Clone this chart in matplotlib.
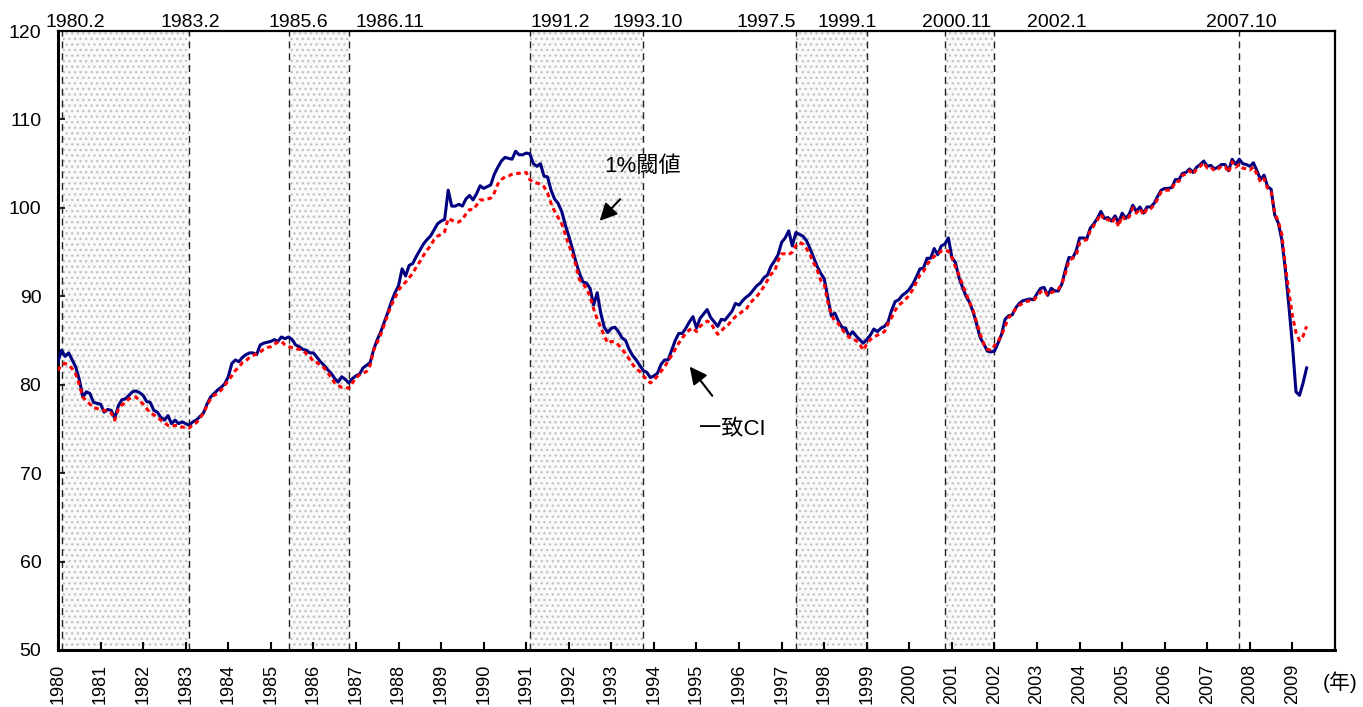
import numpy as np
import matplotlib
matplotlib.use("Agg")
import matplotlib.pyplot as plt
import matplotlib.transforms as mtransforms

plt.rcParams['font.family'] = ['Liberation Sans', 'Noto Sans CJK JP', 'DejaVu Sans']

# coincident CI, monthly from 1980.1 (one row per year)
ci = [
    82.6, 83.9, 83.2, 83.6, 82.8, 82.0, 80.6, 78.6, 79.2, 79.0, 78.0, 77.9,
    77.8, 76.9, 77.2, 77.1, 76.2, 77.6, 78.3, 78.4, 78.8, 79.2, 79.3, 79.1,
    78.8, 78.1, 78.0, 77.1, 76.9, 76.3, 76.0, 76.5, 75.6, 76.0, 75.6, 75.8,
    75.6, 75.4, 75.8, 76.0, 76.4, 76.8, 77.8, 78.6, 79.0, 79.4, 79.7, 80.1,
    80.9, 82.4, 82.8, 82.6, 83.1, 83.4, 83.6, 83.6, 83.4, 84.5, 84.7, 84.8,
    84.9, 85.1, 84.9, 85.4, 85.2, 85.4, 85.1, 84.5, 84.3, 84.0, 83.9, 83.6,
    83.6, 83.1, 82.6, 82.2, 81.7, 81.3, 80.7, 80.3, 80.9, 80.6, 80.2, 80.7,
    81.0, 81.2, 81.9, 82.2, 82.5, 84.0, 85.1, 86.0, 87.1, 88.2, 89.4, 90.4,
    91.2, 93.1, 92.3, 93.5, 93.7, 94.5, 95.2, 95.9, 96.4, 96.8, 97.5, 98.2,
    98.5, 98.7, 102.0, 100.2, 100.2, 100.4, 100.2, 101.0, 101.4, 100.9, 101.6, 102.5,
    102.2, 102.4, 102.6, 103.8, 104.6, 105.3, 105.7, 105.6, 105.5, 106.4, 106.0, 106.0,
    106.2, 106.1, 105.0, 104.7, 105.0, 103.6, 103.5, 102.0, 101.0, 100.5, 99.6, 98.1,
    96.8, 95.4, 93.9, 92.6, 91.6, 91.5, 90.9, 89.0, 90.4, 88.1, 86.5, 85.9,
    86.4, 86.5, 86.0, 85.3, 85.0, 84.0, 83.3, 82.8, 82.2, 81.6, 81.4, 80.8,
    81.0, 81.3, 82.3, 82.8, 82.8, 83.9, 85.0, 85.8, 85.8, 86.4, 87.1, 87.7,
    86.4, 87.5, 88.0, 88.5, 87.6, 87.1, 86.6, 87.4, 87.3, 87.8, 88.3, 89.2,
    89.0, 89.5, 89.9, 90.2, 90.7, 91.2, 91.5, 92.1, 92.4, 93.4, 94.0, 94.7,
    96.1, 96.6, 97.4, 95.7, 97.2, 97.0, 96.8, 96.3, 95.4, 94.4, 93.4, 92.6,
    92.0, 89.9, 87.8, 88.1, 87.2, 86.5, 86.4, 85.5, 86.0, 85.5, 85.1, 84.7,
    85.1, 85.6, 86.3, 86.0, 86.4, 86.6, 87.1, 88.4, 89.4, 89.6, 90.1, 90.4,
    90.8, 91.4, 92.2, 93.1, 93.2, 94.3, 94.3, 95.4, 94.7, 95.7, 95.9, 96.6,
    94.4, 93.8, 92.1, 91.0, 90.0, 89.3, 88.2, 86.8, 85.3, 84.6, 83.8, 83.7,
    83.8, 84.7, 85.7, 87.4, 87.8, 87.9, 88.7, 89.2, 89.5, 89.6, 89.7, 89.6,
    90.3, 90.9, 91.0, 90.1, 90.9, 90.6, 90.6, 91.4, 93.0, 94.4, 94.3, 95.1,
    96.6, 96.6, 96.5, 97.7, 98.2, 98.8, 99.6, 98.8, 98.9, 98.5, 99.1, 98.3,
    99.4, 98.8, 99.3, 100.3, 99.6, 100.1, 99.4, 100.1, 100.1, 100.5, 101.3, 102.0,
    102.2, 102.2, 102.3, 103.2, 103.2, 103.9, 104.0, 104.4, 104.0, 104.6, 104.9, 105.3,
    104.7, 104.8, 104.4, 104.6, 104.9, 104.9, 104.2, 105.5, 104.9, 105.5, 105.0, 104.9,
    104.7, 105.1, 104.2, 103.2, 103.7, 102.4, 102.1, 99.2, 98.3, 96.4, 93.0, 88.9,
    84.5, 79.2, 78.8, 80.2, 81.9,
]

# 1% threshold
thr = [
    81.6, 82.3, 82.4, 82.2, 81.8, 81.2, 80.0, 78.6, 78.2, 77.8, 77.4, 77.3,
    77.2, 77.1, 77.0, 76.8, 76.0, 77.2, 77.7, 78.0, 78.4, 78.6, 78.6, 78.2,
    77.8, 77.3, 76.8, 76.6, 76.3, 76.0, 75.7, 75.4, 75.3, 75.4, 75.4, 75.2,
    75.2, 75.1, 75.5, 75.7, 76.2, 76.8, 77.6, 78.4, 78.8, 79.0, 79.4, 79.9,
    80.5, 81.0, 81.6, 82.0, 82.5, 82.7, 83.1, 83.3, 83.5, 83.7, 84.0, 84.2,
    84.3, 84.6, 84.8, 84.9, 84.5, 84.3, 84.2, 84.1, 84.0, 83.9, 83.5, 83.2,
    82.6, 82.5, 82.2, 81.9, 81.4, 80.8, 80.2, 79.9, 79.7, 79.7, 79.6, 80.2,
    80.8, 81.1, 81.3, 81.5, 82.2, 83.9, 84.8, 85.7, 86.8, 88.0, 89.0, 89.8,
    90.7, 91.2, 91.6, 92.1, 92.6, 93.3, 93.9, 94.6, 95.2, 95.7, 96.4, 96.8,
    97.0, 97.3, 98.8, 98.6, 98.4, 98.4, 98.7, 99.3, 99.8, 99.8, 100.3, 100.9,
    100.9, 101.0, 101.1, 101.7, 102.7, 103.2, 103.5, 103.6, 103.8, 103.9, 103.9, 104.0,
    104.0, 103.2, 102.9, 102.8, 102.7, 102.4, 101.7, 100.5, 99.6, 98.9, 98.2, 97.0,
    95.8, 94.8, 93.5, 91.9, 91.4, 90.9, 90.0, 88.6, 87.4, 86.5, 85.5, 84.7,
    84.9, 84.8, 84.5, 84.0, 83.5, 82.9, 82.3, 81.8, 81.5, 81.0, 80.6, 80.2,
    80.5, 81.0, 81.5, 82.0, 82.7, 83.3, 84.0, 84.7, 85.3, 85.8, 86.2, 86.4,
    86.0, 86.6, 86.9, 87.2, 87.0, 86.3, 85.7, 86.1, 86.5, 86.8, 87.3, 87.7,
    88.0, 88.3, 88.5, 89.2, 89.6, 90.0, 90.5, 91.1, 91.8, 92.5, 92.8, 94.0,
    94.8, 94.8, 94.7, 95.0, 95.7, 96.1, 95.9, 95.4, 94.7, 93.8, 93.0, 91.8,
    91.4, 89.4, 87.9, 87.2, 86.9, 86.3, 85.8, 85.4, 85.1, 85.0, 84.6, 83.9,
    84.6, 85.1, 85.4, 85.6, 85.8, 86.0, 86.9, 87.6, 88.4, 89.0, 89.3, 89.7,
    90.1, 90.8, 91.6, 92.4, 92.8, 93.6, 94.1, 94.5, 94.8, 95.1, 95.2, 95.1,
    94.4, 93.3, 92.4, 91.3, 90.3, 89.3, 88.4, 87.0, 85.7, 84.6, 84.0, 83.9,
    84.4, 84.9, 85.6, 86.6, 87.6, 88.0, 88.6, 89.0, 89.2, 89.4, 89.5, 89.5,
    90.0, 90.5, 90.7, 90.1, 90.4, 90.6, 90.8, 91.4, 92.6, 94.0, 94.3, 94.6,
    96.0, 96.3, 96.4, 97.4, 98.0, 98.6, 99.3, 98.6, 98.7, 98.3, 98.8, 97.9,
    99.1, 98.6, 99.0, 100.0, 99.4, 99.9, 99.2, 99.9, 99.9, 100.3, 101.0, 101.8,
    102.0, 102.0, 102.1, 103.0, 103.0, 103.7, 103.8, 104.2, 103.8, 104.4, 104.7, 105.1,
    104.5, 104.6, 104.2, 104.4, 104.7, 104.7, 104.0, 105.2, 104.6, 104.9, 104.5, 104.4,
    104.3, 104.6, 103.8, 102.9, 103.3, 102.2, 101.8, 99.4, 98.5, 97.0, 93.5, 90.5,
    87.8, 85.9, 85.0, 85.5, 86.6,
]

# turning points (year, month) and their labels
turn_dates = [(1980, 2), (1983, 2), (1985, 6), (1986, 11), (1991, 2), (1993, 10),
              (1997, 5), (1999, 1), (2000, 11), (2002, 1), (2007, 10)]
turn_labels = ['1980.2', '1983.2', '1985.6', '1986.11', '1991.2', '1993.10',
               '1997.5', '1999.1', '2000.11', '2002.1', '2007.10']
label_x = [1980.40, 1983.12, 1985.64, 1987.80, 1991.79, 1993.86,
           1996.63, 1998.55, 2001.11, 2003.46, 2007.81]
# shaded recessions: pairs of turning point indices
recessions = [(0, 1), (2, 3), (4, 5), (6, 7), (8, 9)]

years = list(range(1980, 2010))

t = 1980 + np.arange(len(ci)) / 12.0
tp = [y + (m - 1) / 12.0 for y, m in turn_dates]

fig = plt.figure(figsize=(13.63, 7.07), dpi=100)
ax = fig.add_axes([58 / 1363, 1 - 650 / 707, (1335 - 58) / 1363, (650 - 31) / 707])

for a, b in recessions:
    ax.axvspan(tp[a], tp[b], facecolor='#fafafa', edgecolor='#c4c4c4',
               hatch='...', lw=0, zorder=0)
for x in tp:
    ax.axvline(x, color='#222222', lw=1.0, ls=(0, (5, 3.5)), zorder=1)

ax.plot(t, ci, color='#000080', lw=2.2, zorder=3)
ax.plot(t, thr, color='#ff0000', lw=2.2, ls=(0, (1.5, 1.2)), zorder=4)

ax.set_xlim(1980, 2010)
ax.set_ylim(50, 120)
ax.set_yticks(range(50, 121, 10))
ax.set_xticks(years)
ax.set_xticklabels([str(y) for y in years], rotation=90)
ax.tick_params(axis='x', direction='in', length=6, width=1.5, pad=10, labelsize=13)
ax.tick_params(axis='y', direction='in', length=5, width=1.2, pad=12, labelsize=14)
for side in ['left', 'bottom']:
    ax.spines[side].set_linewidth(2.2)
for side in ['top', 'right']:
    ax.spines[side].set_linewidth(1.6)

trans = mtransforms.blended_transform_factory(ax.transData, ax.transAxes)
for x, s in zip(label_x, turn_labels):
    ax.text(x, 1.006, s, transform=trans, ha='center', va='baseline', fontsize=14)

ax.text(1993.74, 104.7, '1%閾値', ha='center', va='center', fontsize=16)
ax.annotate('', xy=(1992.68, 98.3), xytext=(1993.25, 101.2),
            arrowprops=dict(arrowstyle='-|>', color='black', lw=1.5, mutation_scale=26))
ax.text(1995.83, 74.9, '一致CI', ha='center', va='center', fontsize=16)
ax.annotate('', xy=(1994.80, 82.3), xytext=(1995.41, 78.5),
            arrowprops=dict(arrowstyle='-|>', color='black', lw=1.5, mutation_scale=26))

fig.text(1340 / 1363, 1 - 682 / 707, '(年)', ha='center', va='center', fontsize=15)

fig.savefig('out.png', dpi=100)
